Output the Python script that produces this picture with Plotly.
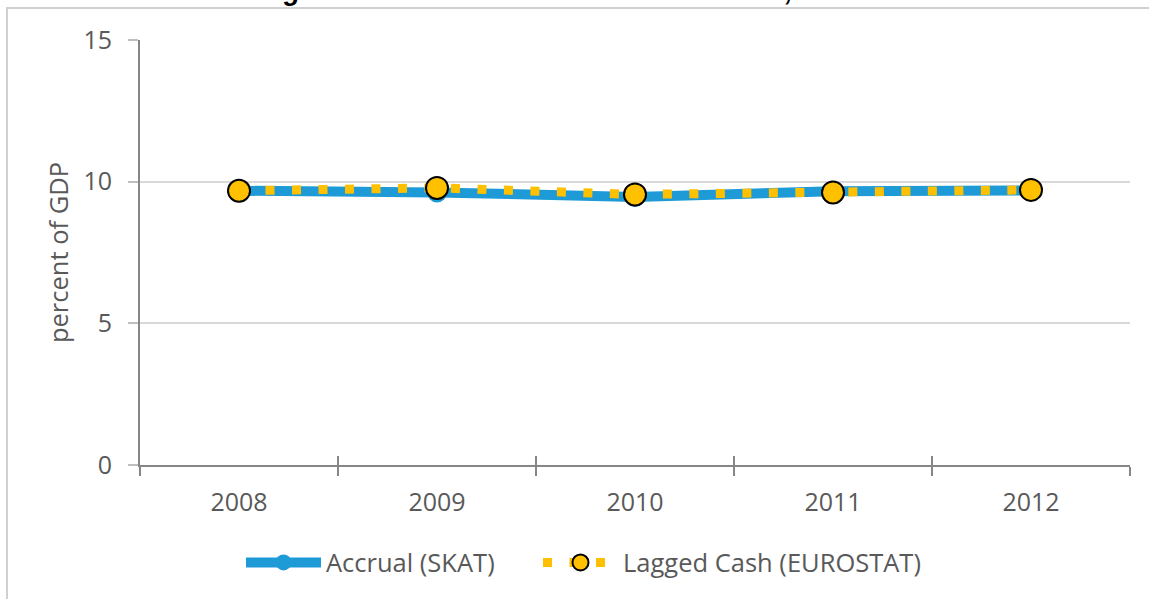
import plotly.graph_objects as go

years = ["2008", "2009", "2010", "2011", "2012"]
accrual_skat = [9.68, 9.62, 9.46, 9.66, 9.69]
lagged_cash_eurostat = [9.68, 9.78, 9.55, 9.62, 9.71]
y_ticks = [0, 5, 10, 15]

title_text = "Figure 10: Accrued and Cash Collections, 2008\u201312"

TXT = "#595959"
FONT = "Open Sans"
FS = 25
LFS = 25.5

fig = go.Figure()
fig.add_trace(go.Scatter(
    x=years, y=accrual_skat, name="Accrual (SKAT)",
    mode="lines+markers",
    line=dict(color="#1E9BD7", width=10),
    marker=dict(color="#1E9BD7", size=20),
    xaxis="x", yaxis="y", legend="legend",
))
fig.add_trace(go.Scatter(
    x=years, y=lagged_cash_eurostat, name="Lagged Cash (EUROSTAT)",
    mode="lines+markers",
    line=dict(color="#FFC000", width=9, dash="9px,17.5px"),
    marker=dict(color="#FFC000", size=22, line=dict(color="black", width=2)),
    xaxis="x2", yaxis="y", legend="legend2",
))

legend_common = dict(orientation="h", xanchor="left", y=-0.175, yanchor="top",
                     font=dict(family=FONT, size=LFS, color=TXT), itemwidth=75,
                     bgcolor="rgba(0,0,0,0)")

fig.update_layout(
    width=1149, height=599, autosize=False,
    margin=dict(l=140, r=19, t=40, b=134),
    paper_bgcolor="white", plot_bgcolor="white",
    font=dict(family=FONT, size=FS, color=TXT),
    showlegend=True,
    legend=dict(x=(241 - 140) / 990, **legend_common),
    legend2=dict(x=(538 - 140) / 990, **legend_common),
    xaxis=dict(
        type="category", categoryorder="array", categoryarray=years,
        range=[-0.5, 4.5], tickson="boundaries",
        ticks="outside", ticklen=9, tickwidth=2, tickcolor="#868686",
        showline=True, linecolor="#868686", linewidth=2,
        showgrid=False, zeroline=False,
        tickfont=dict(family=FONT, size=FS, color=TXT),
        ticklabelstandoff=14,
    ),
    xaxis2=dict(
        type="category", categoryorder="array", categoryarray=years,
        range=[-0.5, 4.5], tickson="boundaries", overlaying="x", anchor="y",
        side="bottom",
        ticks="inside", ticklen=9, tickwidth=2, tickcolor="#868686",
        showticklabels=False, showline=False, showgrid=False, zeroline=False,
    ),
    yaxis=dict(
        range=[0, 15], tickvals=y_ticks,
        ticks="outside", ticklen=10, tickwidth=1.5, tickcolor="#BFBFBF",
        showgrid=True, gridcolor="#D9D9D9", gridwidth=1.5,
        showline=True, linecolor="#868686", linewidth=2,
        zeroline=False,
        tickfont=dict(family=FONT, size=FS, color=TXT),
        ticklabelstandoff=11,
        title=dict(text="percent of GDP", font=dict(family=FONT, size=LFS, color=TXT),
                   standoff=7),
    ),
)

# chart frame (partially outside the visible page)
fig.add_shape(type="rect", xref="paper", yref="paper",
              x0=(7 - 140) / 990, x1=(1170 - 140) / 990,
              y0=(465 - 640) / 425, y1=(465 - 8) / 425,
              line=dict(color="#D0D0D0", width=2), fillcolor="rgba(0,0,0,0)",
              layer="above")

fig.add_annotation(text="<b><i>" + title_text + "</i></b>",
                   xref="paper", yref="paper", x=(583 - 140) / 990,
                   y=(465 - 8) / 425, xanchor="center", yanchor="bottom",
                   showarrow=False,
                   font=dict(family="Liberation Sans", size=27, color="black"))

fig.write_html("out.html", config={"displayModeBar": False},
               post_script="document.body.style.margin='0';")
